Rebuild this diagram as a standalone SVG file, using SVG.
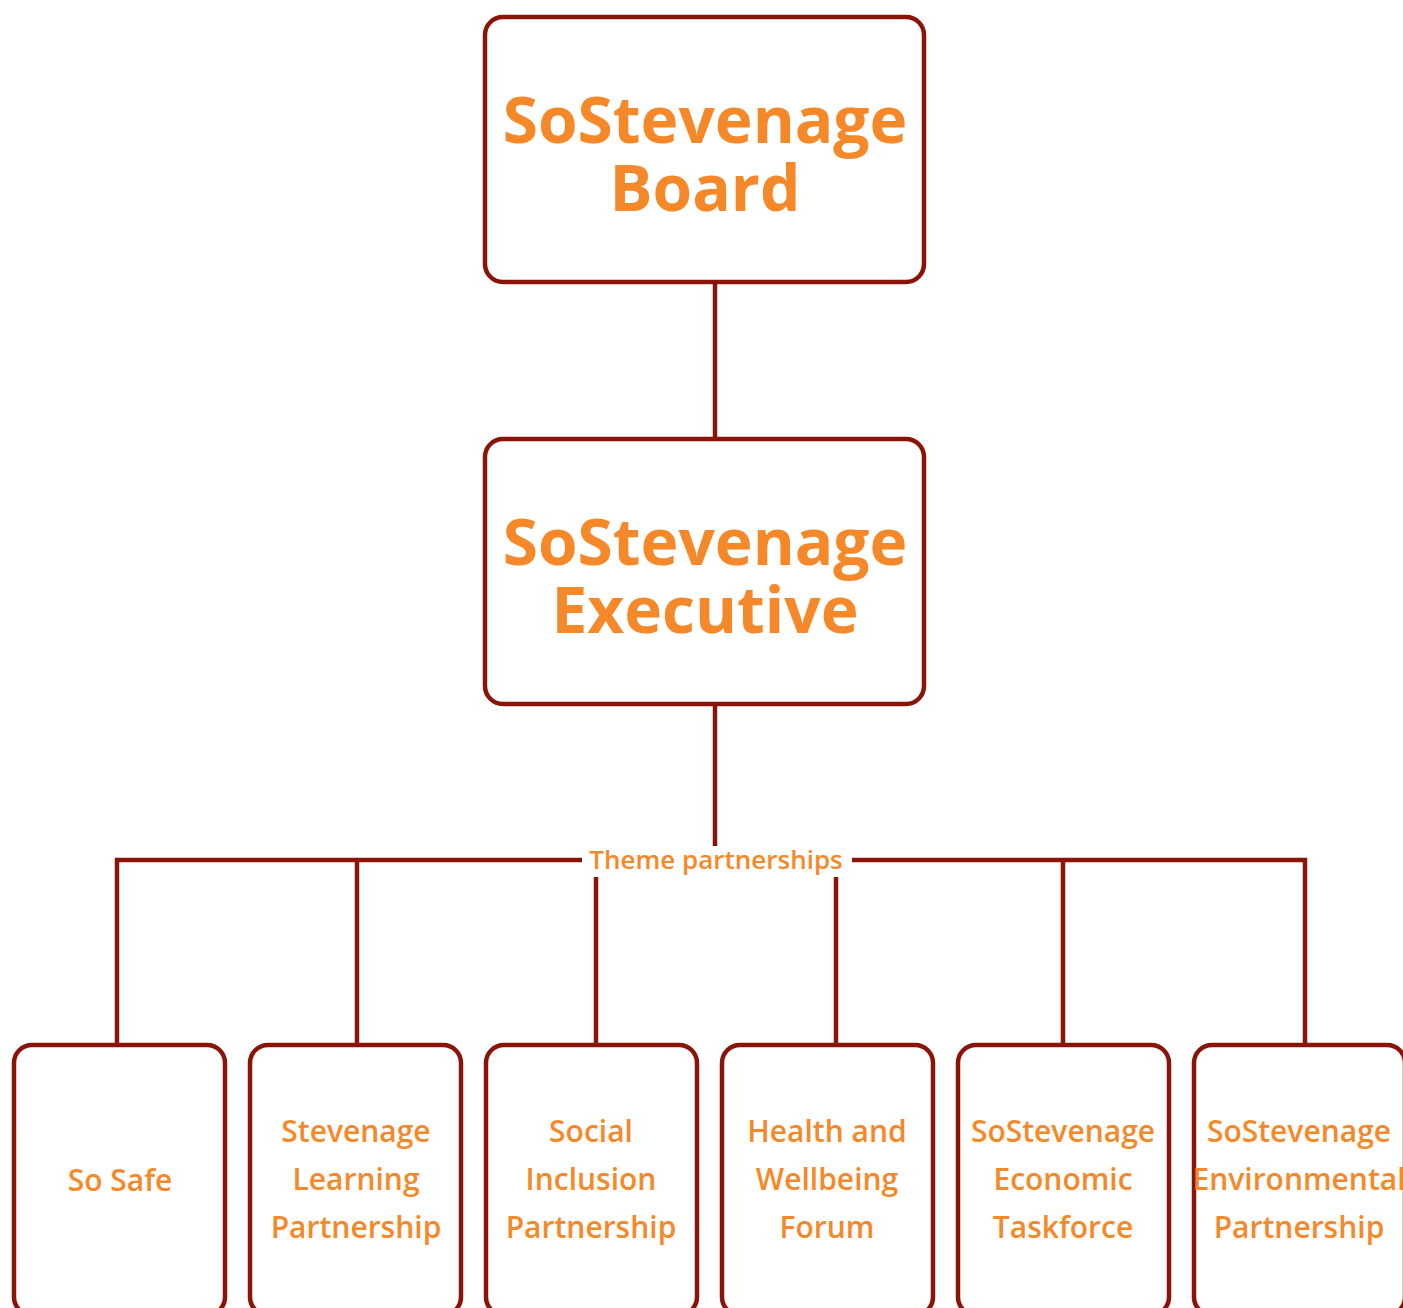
<svg xmlns="http://www.w3.org/2000/svg" width="1403" height="1308" viewBox="0 0 1403 1308">
<style>
.box{fill:#fff;stroke:#8b1408;stroke-width:4.5}
.con{fill:none;stroke:#8b1408;stroke-width:4.5}
.big{font-family:"Open Sans","Noto Sans",sans-serif;font-weight:700;font-size:64px;fill:#f5892a;text-anchor:middle}
.sm{font-family:"Open Sans","Noto Sans",sans-serif;font-weight:600;font-size:30px;fill:#f5892a;text-anchor:middle}
.lbl{font-family:"Open Sans","Noto Sans",sans-serif;font-weight:600;font-size:26px;fill:#f5892a;text-anchor:middle}
</style>
<rect width="1403" height="1308" fill="#fff"/>
<g id="connectors">
<line class="con" x1="715" y1="282" x2="715" y2="439"/>
<line class="con" x1="715" y1="704" x2="715" y2="846"/>
<polyline class="con" points="117,1045 117,860 1305,860 1305,1045"/>
<line class="con" x1="357" y1="860" x2="357" y2="1045"/>
<line class="con" x1="596" y1="860" x2="596" y2="1045"/>
<line class="con" x1="836" y1="860" x2="836" y2="1045"/>
<line class="con" x1="1063" y1="860" x2="1063" y2="1045"/>
<rect x="582" y="846" width="270" height="31" fill="#fff"/>
<text class="lbl" x="716" y="869">Theme partnerships</text>
</g>
<g id="board">
<rect class="box" x="485" y="17" width="439" height="265" rx="18"/>
<text class="big" x="705" y="143">SoStevenage</text>
<text class="big" x="705" y="211">Board</text>
</g>
<g id="executive">
<rect class="box" x="485" y="439" width="439" height="265" rx="18"/>
<text class="big" x="705" y="565">SoStevenage</text>
<text class="big" x="705" y="633">Executive</text>
</g>
<g id="sosafe">
<rect class="box" x="14" y="1045" width="211" height="270" rx="18"/>
<text class="sm" x="120" y="1191">So Safe</text>
</g>
<g id="learning">
<rect class="box" x="250" y="1045" width="211" height="270" rx="18"/>
<text class="sm" x="356" y="1142">Stevenage</text>
<text class="sm" x="356" y="1190">Learning</text>
<text class="sm" x="356" y="1238">Partnership</text>
</g>
<g id="social">
<rect class="box" x="486" y="1045" width="211" height="270" rx="18"/>
<text class="sm" x="591" y="1142">Social</text>
<text class="sm" x="591" y="1190">Inclusion</text>
<text class="sm" x="591" y="1238">Partnership</text>
</g>
<g id="health">
<rect class="box" x="722" y="1045" width="211" height="270" rx="18"/>
<text class="sm" x="827" y="1142">Health and</text>
<text class="sm" x="827" y="1190">Wellbeing</text>
<text class="sm" x="827" y="1238">Forum</text>
</g>
<g id="economic">
<rect class="box" x="958" y="1045" width="211" height="270" rx="18"/>
<text class="sm" x="1063" y="1142">SoStevenage</text>
<text class="sm" x="1063" y="1190">Economic</text>
<text class="sm" x="1063" y="1238">Taskforce</text>
</g>
<g id="environmental">
<rect class="box" x="1194" y="1045" width="211" height="270" rx="18"/>
<text class="sm" x="1299" y="1142">SoStevenage</text>
<text class="sm" x="1299" y="1190">Environmental</text>
<text class="sm" x="1299" y="1238">Partnership</text>
</g>
</svg>
